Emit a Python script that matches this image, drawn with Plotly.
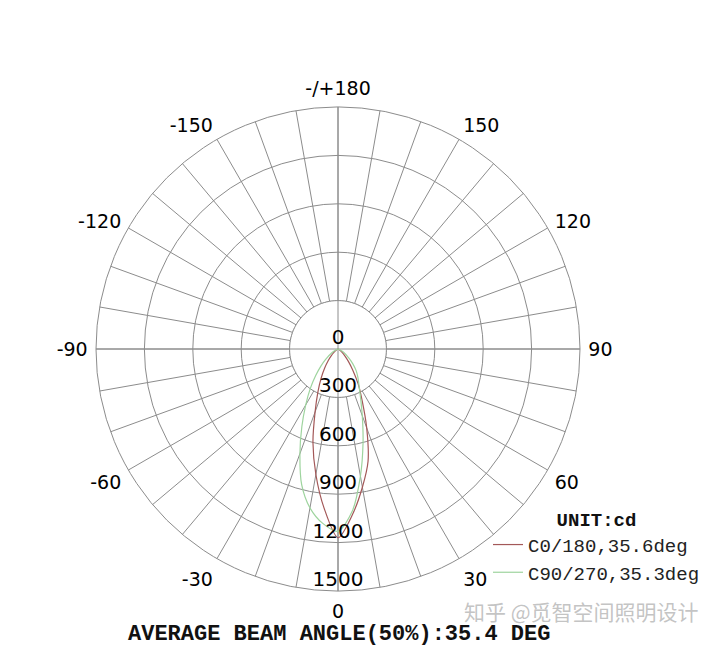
import plotly.graph_objects as go

# ---------------- data ----------------
angles = [-90, -80, -70, -60, -50, -45, -40, -35, -30, -25, -20, -15, -10, -5, 0,
          5, 10, 15, 20, 25, 30, 35, 40, 45, 50, 60, 70, 80, 90]

# C0/180 plane intensity (cd)
c0_180 = [0, 1, 4, 12, 35, 60, 95, 145, 210, 295, 415, 600, 790, 990, 1170,
          1030, 870, 720, 520, 355, 250, 160, 100, 60, 35, 12, 4, 1, 0]

# C90/270 plane intensity (cd)
c90_270 = [0, 3, 12, 40, 100, 150, 215, 300, 400, 530, 690, 870, 1000, 1085, 1130,
           1010, 800, 600, 440, 330, 260, 215, 175, 130, 90, 40, 12, 3, 0]

series_names = ["C0/180,35.6deg", "C90/270,35.3deg"]
series_colors = ["#a35858", "#9ed49e"]

radial_ticks = [300, 600, 900, 1200, 1500]
radial_labels = ["0", "300", "600", "900", "1200", "1500"]
radial_label_vals = [0, 300, 600, 900, 1200, 1500]

angle_grid = list(range(0, 360, 10))
angle_label_map = {0: "0", 30: "30", 60: "60", 90: "90", 120: "120", 150: "150",
                   180: "-/+180", 210: "-150", 240: "-120", 270: "-90",
                   300: "-60", 330: "-30"}

title_text = "AVERAGE BEAM ANGLE(50%):35.4 DEG"
unit_text = "UNIT:cd"
watermark = "知乎 @觅智空间照明设计"

GRID = "#8c8c8c"
MONO = "Liberation Mono, Courier New, monospace"
SANS = "DejaVu Sans, sans-serif"

fig = go.Figure()

# white disk covering inner spokes (inside first circle)
hole_theta = list(range(0, 361, 2))
fig.add_trace(go.Scatterpolar(
    r=[radial_ticks[0]] * len(hole_theta), theta=hole_theta, mode="lines",
    fill="toself", fillcolor="white", line=dict(color=GRID, width=1),
    showlegend=False, hoverinfo="skip"))

# main cross lines through the centre
for a in (0, 90):
    fig.add_trace(go.Scatterpolar(
        r=[radial_ticks[-1], 0, radial_ticks[-1]], theta=[a, a, a + 180],
        mode="lines", line=dict(color=GRID, width=1),
        showlegend=False, hoverinfo="skip"))

# intensity curves
for vals, name, col in zip([c0_180, c90_270], series_names, series_colors):
    fig.add_trace(go.Scatterpolar(
        r=vals, theta=angles, mode="lines", name=name,
        line=dict(color=col, width=1.2, shape="spline", smoothing=0.8)))

# radial value labels along the 0 deg direction
fig.add_trace(go.Scatterpolar(
    r=radial_label_vals, theta=[0] * len(radial_label_vals), mode="text",
    text=radial_labels, textposition="top center",
    textfont=dict(family=SANS, size=20, color="#000"),
    showlegend=False, hoverinfo="skip"))

fig.update_layout(
    width=720, height=648,
    margin=dict(l=0, r=0, t=0, b=0),
    paper_bgcolor="white",
    showlegend=True,
    polar=dict(
        domain=dict(x=[88 / 720, 572 / 720], y=[65 / 648, 549 / 648]),
        bgcolor="white",
        radialaxis=dict(range=[0, 1500], tickmode="array", tickvals=radial_ticks,
                        showticklabels=False, ticks="", showline=False,
                        gridcolor=GRID, gridwidth=1),
        angularaxis=dict(rotation=270, direction="counterclockwise",
                         tickmode="array", tickvals=angle_grid,
                         ticktext=[angle_label_map.get(a, "") for a in angle_grid],
                         ticks="outside", ticklen=4, tickcolor="rgba(0,0,0,0)",
                         showline=True, linecolor=GRID, linewidth=1,
                         gridcolor=GRID, gridwidth=1,
                         tickfont=dict(family=SANS, size=19, color="#000")),
    ),
    legend=dict(
        x=480 / 720, y=(648 - 493) / 648, xanchor="left", yanchor="top",
        bgcolor="rgba(0,0,0,0)", borderwidth=0,
        font=dict(family=MONO, size=19, color="#222"),
        title=dict(text="<b>" + unit_text + "</b>", side="top center",
                   font=dict(family=MONO, size=19, color="#111")),
        itemwidth=30, tracegroupgap=0,
    ),
    annotations=[
        dict(text="<b>" + title_text + "</b>", x=330.5 / 720, y=(648 - 626) / 648,
             xref="paper", yref="paper", showarrow=False, xanchor="center",
             yanchor="middle", font=dict(family=MONO, size=22, color="#111")),
        dict(text=watermark, x=693 / 720, y=(648 - 603) / 648,
             xref="paper", yref="paper", showarrow=False, xanchor="right",
             yanchor="middle",
             font=dict(family="Noto Sans CJK SC", size=21, color="rgba(170,170,170,0.7)")),
    ],
)

fig.write_html("out.html")
